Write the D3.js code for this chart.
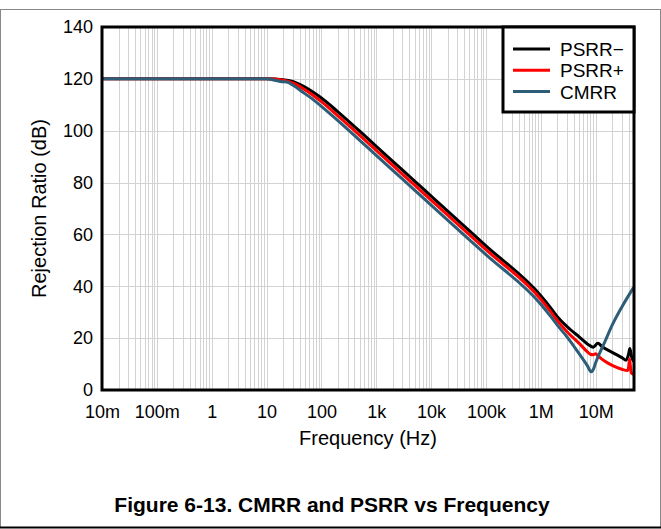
<!DOCTYPE html>
<html><head><meta charset="utf-8">
<script src="https://cdn.jsdelivr.net/npm/d3@7/dist/d3.min.js"></script>
<style>
body{margin:0;background:#fff}
text{font-family:"Liberation Sans",Arial,sans-serif;fill:#000}
</style>
</head><body>
<svg id="chart" width="661" height="529"></svg>
<script>
// ---- data ----
const xTickValues = [0.01, 0.1, 1, 10, 100, 1e3, 1e4, 1e5, 1e6, 1e7];
const xTickLabels = ["10m", "100m", "1", "10", "100", "1k", "10k", "100k", "1M", "10M"];
const yTickValues = [0, 20, 40, 60, 80, 100, 120, 140];

const psrrMinusFreq = [0.01, 1, 10, 20, 30, 50, 70, 100, 200, 500, 1e3, 2e3, 5e3, 1e4, 1e5, 1e6, 1.5e6, 2e6, 3e6, 5e6, 8e6, 9e6, 11e6, 13e6, 20e6, 30e6, 36e6, 40e6, 42e6, 45e6, 49e6];
const psrrMinusDb   = [120, 120, 120, 119.7, 119.0, 116.8, 114.9, 112.6, 107.3, 99.8, 94, 88.2, 80.6, 74.8, 55.6, 36.4, 31.8, 28.3, 24.5, 20.5, 17, 16.5, 18, 16.8, 14.5, 12.5, 11.5, 14, 16, 13, 11];

const psrrPlusFreq = [0.01, 1, 10, 20, 30, 50, 70, 100, 200, 500, 1e3, 2e3, 5e3, 1e4, 1e5, 1e6, 1.5e6, 2e6, 3e6, 5e6, 7e6, 8e6, 9e6, 10e6, 11e6, 15e6, 20e6, 30e6, 38e6, 40e6, 41.5e6, 43e6, 45e6, 49e6];
const psrrPlusDb   = [120, 120, 120, 119.5, 118.4, 115.8, 113.7, 111.2, 105.7, 98.2, 92.4, 86.6, 79, 73.2, 54.1, 35, 30.3, 26.8, 22.5, 18, 14.8, 13.8, 13.6, 14, 13.2, 11, 9.5, 8, 7.5, 9, 12, 9, 6.5, 6];

const cmrrFreq = [0.01, 1, 10, 14, 18, 25, 30, 50, 70, 100, 200, 500, 1e3, 2e3, 5e3, 1e4, 1e5, 1e6, 1.5e6, 2e6, 3e6, 5e6, 7e6, 8.3e6, 9e6, 10e6, 15e6, 20e6, 30e6, 40e6, 49e6];
const cmrrDb   = [120, 120, 120, 119.5, 119, 118.6, 117.6, 114.3, 112.1, 109.4, 103.9, 96.3, 90.5, 84.7, 77.1, 71.3, 52.2, 33.1, 28.5, 25, 20.5, 14, 9.5, 7, 7.8, 10.5, 19, 25, 32, 36.5, 39.5];

const seriesNames = ["PSRR\u2212", "PSRR+", "CMRR"];
const seriesColors = ["#000000", "#ff0000", "#2e5d78"];

// ---- layout ----
const svg = d3.select("#chart");
const L = 102, R = 634, T = 27, B = 390;
const x = d3.scaleLog().domain([0.01, 50e6]).range([L, R]);
const y = d3.scaleLinear().domain([0, 140]).range([B, T]);
const FONT = "Liberation Sans, Arial, sans-serif";

// outer frame
svg.append("line").attr("x1",0.5).attr("x2",0.5).attr("y1",9.5).attr("y2",528).attr("stroke","#888").attr("stroke-width",1);
svg.append("line").attr("x1",660.5).attr("x2",660.5).attr("y1",9.5).attr("y2",528).attr("stroke","#888").attr("stroke-width",1);
svg.append("line").attr("x1",0).attr("x2",661).attr("y1",9.5).attr("y2",9.5).attr("stroke","#888").attr("stroke-width",1);
svg.append("line").attr("x1",0).attr("x2",661).attr("y1",527.5).attr("y2",527.5).attr("stroke","#000").attr("stroke-width",2);

// grid: minor & major vertical, major horizontal
const gridX = [];
for (let e = -2; e <= 7; e++) {
  for (let m = 1; m <= 9; m++) {
    const v = m * Math.pow(10, e);
    if (v >= 0.01 && v <= 50e6) gridX.push(v);
  }
}
svg.append("g").selectAll("line").data(gridX).join("line")
  .attr("x1", d => Math.round(x(d)) + 0.5).attr("x2", d => Math.round(x(d)) + 0.5)
  .attr("y1", T).attr("y2", B)
  .attr("stroke", "#d3d3d3").attr("stroke-width", 1);
svg.append("g").selectAll("line").data(yTickValues).join("line")
  .attr("x1", L).attr("x2", R)
  .attr("y1", d => Math.round(y(d)) + 0.5).attr("y2", d => Math.round(y(d)) + 0.5)
  .attr("stroke", "#d3d3d3").attr("stroke-width", 1);

// axes (labels only)
const xAxis = d3.axisBottom(x).tickValues(xTickValues)
  .tickFormat((d, i) => xTickLabels[i]).tickSize(0).tickPadding(15);
const gx = svg.append("g").attr("transform", `translate(0,${B})`).call(xAxis);
gx.select(".domain").remove();
gx.selectAll("text").attr("font-size", 18).attr("font-family", FONT).attr("fill","#000");

const yAxis = d3.axisLeft(y).tickValues(yTickValues).tickSize(0).tickPadding(9);
const gy = svg.append("g").attr("transform", `translate(${L},0)`).call(yAxis);
gy.select(".domain").remove();
gy.selectAll("text").attr("font-size", 18).attr("font-family", FONT).attr("fill","#000");

// curves
const line = d3.line().x(d => x(d[0])).y(d => y(d[1])).curve(d3.curveMonotoneX);
const series = [
  d3.zip(psrrMinusFreq, psrrMinusDb),
  d3.zip(psrrPlusFreq, psrrPlusDb),
  d3.zip(cmrrFreq, cmrrDb)
];
svg.append("clipPath").attr("id","clip").append("rect")
  .attr("x", L).attr("y", T).attr("width", R - L).attr("height", B - T);
series.forEach((s, i) => {
  svg.append("path").attr("d", line(s)).attr("fill", "none")
    .attr("stroke", seriesColors[i]).attr("stroke-width", 3)
    .attr("stroke-linejoin","round")
    .attr("clip-path","url(#clip)");
});

// plot border
svg.append("rect").attr("x", L).attr("y", T).attr("width", R - L).attr("height", B - T)
  .attr("fill", "none").attr("stroke", "#000").attr("stroke-width", 3);

// legend
const lg = svg.append("g");
lg.append("rect").attr("x", 503).attr("y", 27).attr("width", 131).attr("height", 85)
  .attr("fill", "#fff").attr("stroke", "#000").attr("stroke-width", 3);
seriesNames.forEach((n, i) => {
  const yy = 49 + i * 21.3;
  lg.append("line").attr("x1", 513).attr("x2", 550).attr("y1", yy).attr("y2", yy)
    .attr("stroke", seriesColors[i]).attr("stroke-width", 3);
  lg.append("text").attr("x", 560).attr("y", yy + 7).attr("font-size", 19).text(n);
});

// axis titles
svg.append("text").attr("x", (L + R) / 2).attr("y", 445).attr("text-anchor", "middle")
  .attr("font-size", 20).text("Frequency (Hz)");
svg.append("text").attr("transform", `translate(46,${(T + B) / 2}) rotate(-90)`)
  .attr("text-anchor", "middle").attr("font-size", 20).text("Rejection Ratio (dB)");

// figure caption
svg.append("text").attr("x", 332).attr("y", 512).attr("text-anchor", "middle")
  .attr("font-size", 21).attr("font-weight", "bold").text("Figure 6-13. CMRR and PSRR vs Frequency");
</script>
</body></html>
